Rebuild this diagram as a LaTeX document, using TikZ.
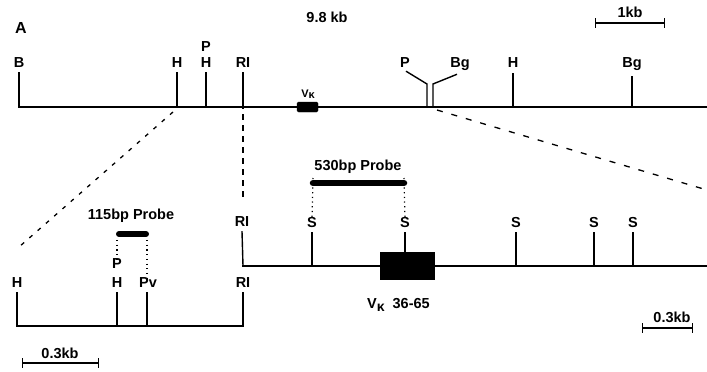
\documentclass[tikz,border=0pt]{standalone}
\usepackage{fontspec}
\setmainfont{Liberation Sans}
\begin{document}
\begin{tikzpicture}[x=1pt,y=-1pt,
  lab/.style={font=\fontsize{14.5}{15}\selectfont\bfseries, inner sep=0pt, anchor=base},
  dna/.style={line width=1.6pt, line cap=rect, line join=miter},
  site/.style={line width=1.4pt},
  zoomline/.style={line width=1.3pt, dash pattern=on 4pt off 7pt},
  probeline/.style={line width=1.2pt, dash pattern=on 1.2pt off 3.5pt},
  probe/.style={line width=6.5pt, line cap=round},
  scalebar/.style={line width=1.3pt, |-|}]
\useasboundingbox (0,0) rectangle (707,372);

% ---------- header ----------
\node[lab, font=\fontsize{16}{16}\selectfont\bfseries] (A) at (21,33) {A};
\node[lab] (len) at (327,23) {9.8 kb};
\coordinate (s1a) at (595,23); \coordinate (s1b) at (665,23);
\draw[scalebar] (s1a) -- (s1b);
\node[lab] (s1l) at (630,17) {1kb};

% ---------- top map ----------
\coordinate (T0) at (19,107); \coordinate (T1) at (707,107);
\coordinate (tB) at (19,107);  \coordinate (tH1) at (177,107);
\coordinate (tH2) at (206,107); \coordinate (tRI) at (243,107);
\coordinate (tP) at (427,107); \coordinate (tBg1) at (433,107);
\coordinate (tH3) at (513,107); \coordinate (tBg2) at (632,107);
\draw[dna] (T0) -- (T1);
\node[lab] (lB) at (19,67) {B};
\node[lab] (lH1) at (177,67) {H};
\node[lab] (lH2) at (206,67) {H};
\node[lab] (lP1) at (206,51) {P};
\node[lab] (lRI) at (243,67) {RI};
\node[lab] (lP2) at (405,67) {P};
\node[lab] (lBg1) at (460,67) {Bg};
\node[lab] (lH3) at (513,67) {H};
\node[lab] (lBg2) at (632,67) {Bg};
\foreach \n/\t in {lB/tB,lH1/tH1,lH2/tH2,lRI/tRI}
  \draw[site] ([yshift=-5pt]\n.south) -- (\t);
\draw[site] ([yshift=-6pt]lH3.south) -- (tH3);
\draw[site] ([yshift=-6pt]lBg2.south) -- (tBg2);
\coordinate (kP) at (427,84); \coordinate (kBg) at (433,84);
\draw[site] ([xshift=1pt,yshift=-4pt]lP2.south) -- (kP) -- (tP);
\draw[site] ([xshift=-3pt,yshift=-4pt]lBg1.south) -- (kBg) -- (tBg1);
\node[draw, fill=black, minimum width=21pt, minimum height=10pt, inner sep=0pt,
      rounded corners=1.5pt] (vkbox) at (307.5,107) {};
\node[anchor=base, inner sep=0pt] (vklab) at (308,97)
  {\fontsize{11}{11}\selectfont\bfseries V\raisebox{-1.5pt}{\fontsize{11}{11}\selectfont κ}};

% ---------- zoom connectors ----------
\coordinate (zL) at (19,247);
\coordinate (zM) at (243,200);
\coordinate (zR) at (707,190);
\draw[zoomline] ([shift={(-4,5)}]tH1) -- (zL);
\draw[line width=1.3pt, dash pattern=on 6pt off 5pt] ([yshift=4pt]tRI) -- (zM);
\draw[line width=1.3pt, dash pattern=on 6pt off 9pt] ([shift={(4,3)}]tBg1) -- (zR);

% ---------- lower right map ----------
\coordinate (R0) at (243,266); \coordinate (R1) at (707,266);
\draw[dna] (R0) -- (R1);
\node[lab] (rRI) at (242,226) {RI};
\node[lab] (rS1) at (312,227) {S};
\node[lab] (rS2) at (405,227) {S};
\node[lab] (rS3) at (516,227) {S};
\node[lab] (rS4) at (594,227) {S};
\node[lab] (rS5) at (633,227) {S};
\node[draw, fill=black, minimum width=54pt, minimum height=27pt, inner sep=0pt]
  (vkbig) at (407,265.5) {};
\draw[site] ([yshift=-5pt]rRI.south) -- (R0);
\draw[site] ([yshift=-5pt]rS1.south) -- (R0 -| rS1);
\draw[site] ([yshift=-5pt]rS2.south) -- (vkbig.north -| rS2);
\draw[site] ([yshift=-5pt]rS3.south) -- (R0 -| rS3);
\draw[site] ([yshift=-5pt]rS4.south) -- (R0 -| rS4);
\draw[site] ([yshift=-5pt]rS5.south) -- (R0 -| rS5);
\node[anchor=base west, inner sep=0pt] (vklab2) at (367,308)
  {\fontsize{14.5}{15}\selectfont\bfseries V\raisebox{-3pt}{\fontsize{14}{14}\selectfont κ}\hspace{8pt}36-65};

% 530 bp probe
\coordinate (p5a) at (313,183); \coordinate (p5b) at (404,183);
\draw[probe] (p5a) -- (p5b);
\node[lab] (p5l) at (358,170) {530bp Probe};
\draw[probeline] ([yshift=5pt]p5a) -- ([yshift=-3pt]rS1.north);
\draw[probeline] ([yshift=5pt]p5b) -- ([yshift=-3pt]rS2.north);

\coordinate (s3a) at (642,328); \coordinate (s3b) at (693,328);
\draw[scalebar] (s3a) -- (s3b);
\node[lab] (s3l) at (672,322) {0.3kb};

% ---------- lower left map ----------
\coordinate (L0) at (17,326); \coordinate (L1) at (243,326);
\draw[dna] (L0) -- (L1);
\node[lab] (qH1) at (17,287) {H};
\node[lab] (qH2) at (117,287) {H};
\node[lab] (qP) at (117,268) {P};
\node[lab] (qPv) at (148,287) {Pv};
\node[lab] (qRI) at (243,287) {RI};
\draw[site] ([yshift=-5pt]qH1.south) -- (L0);
\draw[site] ([yshift=-5pt]qH2.south) -- (L0 -| qH2);
\draw[site] ([yshift=-5pt]qPv.south -| 147,0) -- (L0 -| 147,0);
\draw[site] ([yshift=-5pt]qRI.south) -- (L1);

% 115 bp probe
\coordinate (p1a) at (119,234); \coordinate (p1b) at (146,234);
\draw[probe, line width=6pt] (p1a) -- (p1b);
\node[lab] (p1l) at (131,219) {115bp Probe};
\draw[probeline] (117,240) -- ([yshift=-3pt]qP.north);
\draw[probeline] (147,240) -- ([yshift=-3pt]qPv.north -| 147,0);

\coordinate (s2a) at (22,363); \coordinate (s2b) at (99,363);
\draw[scalebar] (s2a) -- (s2b);
\node[lab] (s2l) at (60,358) {0.3kb};
\end{tikzpicture}
\end{document}
